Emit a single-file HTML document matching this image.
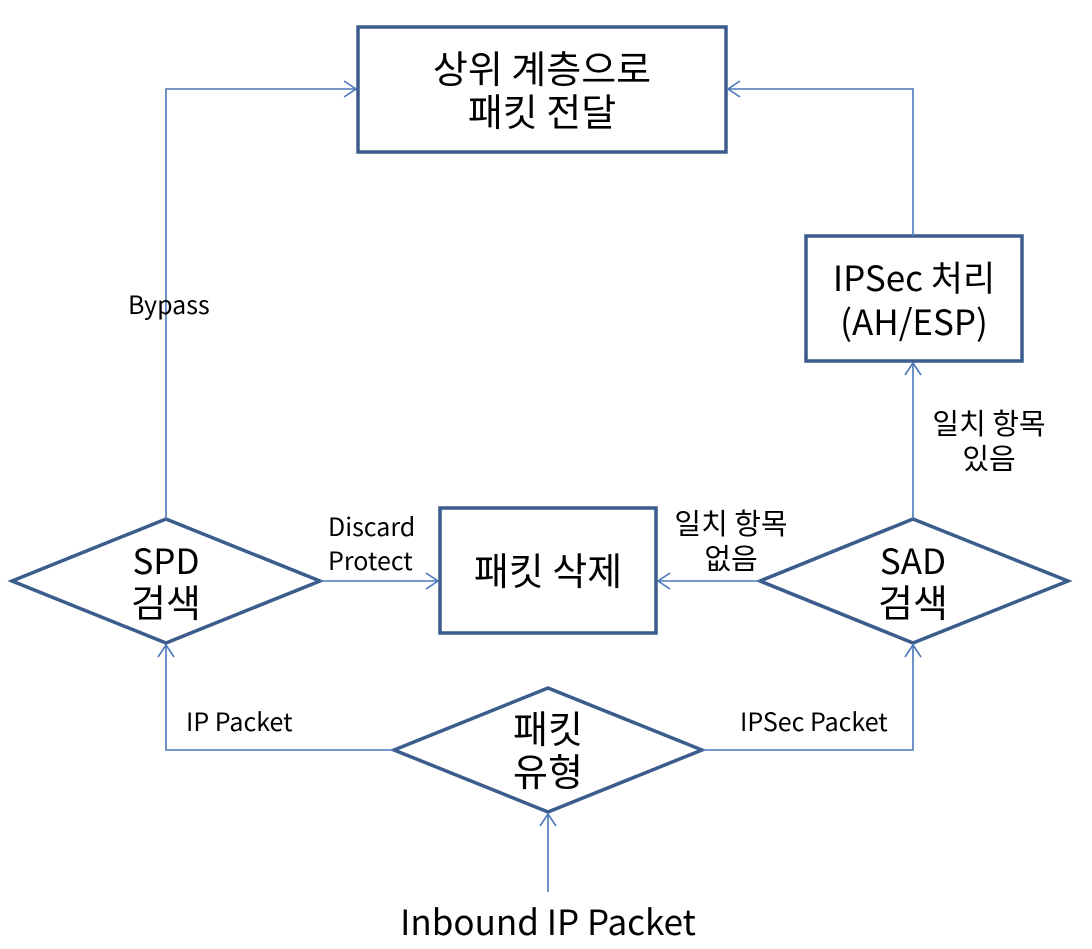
<!DOCTYPE html>
<html><head><meta charset="utf-8"><style>
html,body{margin:0;padding:0;background:#fff;}
svg{display:block;}
text{font-family:"Noto Sans CJK KR","Liberation Sans",sans-serif;fill:#000;}
</style></head><body>
<svg width="1092" height="949" viewBox="0 0 1092 949" xmlns="http://www.w3.org/2000/svg">
<g fill="#fff" stroke="#3b5c8c" stroke-width="3.5">
<rect x="358" y="27" width="368" height="125"/>
<rect x="806" y="236" width="216" height="125"/>
<rect x="440" y="508" width="216" height="125"/>
<polygon points="12,581 166,519 320,581 166,643"/>
<polygon points="760,581 913,519 1068,581 913,643"/>
<polygon points="394,750 548,688 702,750 548,812"/>
</g>
<g fill="none" stroke="#4a78b8" stroke-width="1.6">
<path d="M548,892 V814"/><path d="M540,826 L548,814 L556,826"/>
<path d="M394,750 H166 V645"/><path d="M158,657 L166,645 L174,657"/>
<path d="M702,750 H913 V645"/><path d="M905,657 L913,645 L921,657"/>
<path d="M166,519 V89 H356"/><path d="M344,81 L356,89 L344,97"/>
<path d="M320,581 H438"/><path d="M426,573 L438,581 L426,589"/>
<path d="M760,581 H658"/><path d="M670,573 L658,581 L670,589"/>
<path d="M913,519 V363"/><path d="M905,375 L913,363 L921,375"/>
<path d="M913,236 V89 H728"/><path d="M740,81 L728,89 L740,97"/>
</g>
<g font-size="38" text-anchor="middle">
<text x="542" y="83">상위 계층으로</text>
<text x="542" y="126">패킷 전달</text>
<text x="914" y="291" font-size="35">IPSec 처리</text>
<text x="914" y="335" font-size="35">(AH/ESP)</text>
<text x="548" y="585">패킷 삭제</text>
<text x="166" y="574" font-size="35">SPD</text>
<text x="166" y="617">검색</text>
<text x="913" y="574" font-size="35">SAD</text>
<text x="913" y="617">검색</text>
<text x="548" y="743">패킷</text>
<text x="548" y="786">유형</text>
<text x="548" y="935" font-size="35">Inbound IP Packet</text>
</g>
<g font-size="25">
<text x="128" y="314">Bypass</text>
<text x="328" y="536">Discard</text>
<text x="328" y="570">Protect</text>
<g font-size="29" text-anchor="middle">
<text x="731" y="534">일치 항목</text>
<text x="731" y="569">없음</text>
<text x="989" y="434">일치 항목</text>
<text x="989" y="469">있음</text>
</g>
<text x="186" y="731">IP Packet</text>
<text x="740" y="731">IPSec Packet</text>
</g>
</svg>
</body></html>
